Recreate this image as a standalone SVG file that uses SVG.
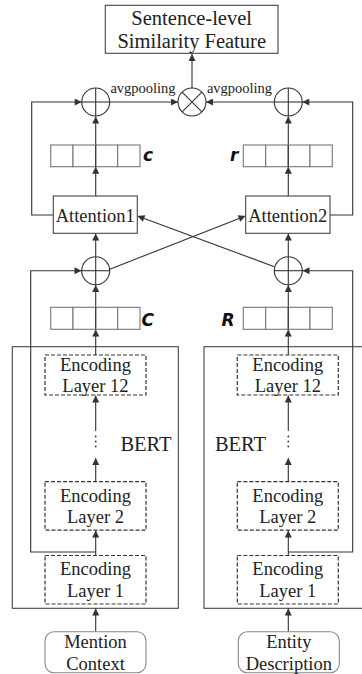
<svg xmlns="http://www.w3.org/2000/svg" width="362" height="674" viewBox="0 0 362 674">
<style>
.t{font-family:"Liberation Serif","Times New Roman",serif;fill:#222;text-anchor:middle}
.f18{font-size:18.5px}
.f20{font-size:20.5px}
.f14{font-size:14.5px}
.v{font-family:"DejaVu Sans",sans-serif;font-weight:bold;font-style:italic;font-size:17px;fill:#111}
.box{fill:#fff;stroke:#444;stroke-width:1.1}
.dash{fill:#fff;stroke:#333;stroke-width:1.2;stroke-dasharray:4 2}
.cell{fill:#fff;stroke:#777;stroke-width:1.1}
.op{fill:none;stroke:#333;stroke-width:1.1}
.ln{fill:none;stroke:#333;stroke-width:1.1}
.rnd{fill:#fff;stroke:#888;stroke-width:1.1}
.bert{fill:none;stroke:#444;stroke-width:1.1}
</style>
<defs>
<marker id="ah" viewBox="0 0 10 10" refX="10" refY="5" markerWidth="8" markerHeight="7" markerUnits="userSpaceOnUse" orient="auto">
<path d="M0,0 L10,5 L0,10 z" fill="#333"/>
</marker>
</defs>

<!-- BERT containers -->
<g id="bert-left">
<rect class="bert" x="12.3" y="346.7" width="166" height="261.6"/>
<text class="t f20" x="146" y="451">BERT</text>
</g>
<g id="bert-right">
<rect class="bert" x="204" y="346.7" width="170" height="261.6"/>
<text class="t f20" x="240.5" y="451">BERT</text>
</g>

<!-- connectors -->
<g id="connectors">
<line class="ln" x1="192" y1="88" x2="192" y2="54" marker-end="url(#ah)"/>
<line class="ln" x1="95.7" y1="145" x2="95.7" y2="116.5" marker-end="url(#ah)"/>
<line class="ln" x1="288.3" y1="145" x2="288.3" y2="116.5" marker-end="url(#ah)"/>
<line class="ln" x1="95.7" y1="196" x2="95.7" y2="166.7" marker-end="url(#ah)"/>
<line class="ln" x1="288.3" y1="196" x2="288.3" y2="166.7" marker-end="url(#ah)"/>
<line class="ln" x1="110" y1="102" x2="178" y2="102" marker-end="url(#ah)"/>
<line class="ln" x1="274" y1="102" x2="206" y2="102" marker-end="url(#ah)"/>
<path class="ln" d="M53.3,215 H31.7 V102 H81.7" marker-end="url(#ah)"/>
<path class="ln" d="M330,215 H352.7 V102 H302.3" marker-end="url(#ah)"/>
<line class="ln" x1="95.7" y1="256.5" x2="95.7" y2="233.5" marker-end="url(#ah)"/>
<line class="ln" x1="288.3" y1="256.5" x2="288.3" y2="233.5" marker-end="url(#ah)"/>
<line class="ln" x1="95.7" y1="307.3" x2="95.7" y2="285" marker-end="url(#ah)"/>
<line class="ln" x1="288.3" y1="307.3" x2="288.3" y2="285" marker-end="url(#ah)"/>
<line class="ln" x1="109.7" y1="269.3" x2="245.5" y2="216" marker-end="url(#ah)"/>
<line class="ln" x1="274.3" y1="266.7" x2="137.5" y2="216" marker-end="url(#ah)"/>
<path class="ln" d="M95.7,552 H30.7 V270.7 H81.5" marker-end="url(#ah)"/>
<path class="ln" d="M288.3,552 H352.7 V270.7 H302.5" marker-end="url(#ah)"/>
<line class="ln" x1="95.7" y1="355" x2="95.7" y2="329.5" marker-end="url(#ah)"/>
<line class="ln" x1="288.3" y1="355" x2="288.3" y2="329.5" marker-end="url(#ah)"/>
<line class="ln" x1="95.7" y1="431" x2="95.7" y2="395.5" marker-end="url(#ah)"/>
<line class="ln" x1="288.3" y1="431" x2="288.3" y2="395.5" marker-end="url(#ah)"/>
<line class="ln" x1="95.7" y1="481.7" x2="95.7" y2="458" marker-end="url(#ah)"/>
<line class="ln" x1="288.3" y1="481.7" x2="288.3" y2="458" marker-end="url(#ah)"/>
<line class="ln" x1="95.7" y1="555.5" x2="95.7" y2="530.5" marker-end="url(#ah)"/>
<line class="ln" x1="288.3" y1="555.5" x2="288.3" y2="530.5" marker-end="url(#ah)"/>
<line class="ln" x1="95.7" y1="631.7" x2="95.7" y2="608.5" marker-end="url(#ah)"/>
<line class="ln" x1="288.3" y1="631.7" x2="288.3" y2="608.5" marker-end="url(#ah)"/>
</g>

<!-- top output -->
<g id="sentence-feature">
<rect class="box" x="105.3" y="5.3" width="172.7" height="48"/>
<text class="t f20" x="191.7" y="24.5">Sentence-level</text>
<text class="t f20" x="191.7" y="48">Similarity Feature</text>
</g>

<g id="labels-avg">
<text class="t f14" x="143" y="92.5">avgpooling</text>
<text class="t f14" x="239.5" y="92.5">avgpooling</text>
</g>

<!-- operators -->
<g id="mult">
<circle class="op" cx="192" cy="102" r="14" fill="#fff"/>
<line class="op" x1="182.1" y1="92.1" x2="201.9" y2="111.9"/>
<line class="op" x1="182.1" y1="111.9" x2="201.9" y2="92.1"/>
</g>
<g id="plus-top-left">
<circle class="op" cx="95.7" cy="102" r="14"/>
<line class="op" x1="81.7" y1="102" x2="109.7" y2="102"/>
<line class="op" x1="95.7" y1="88" x2="95.7" y2="116"/>
</g>
<g id="plus-top-right">
<circle class="op" cx="288.3" cy="102" r="14"/>
<line class="op" x1="274.3" y1="102" x2="302.3" y2="102"/>
<line class="op" x1="288.3" y1="88" x2="288.3" y2="116"/>
</g>
<g id="plus-low-left">
<circle class="op" cx="95.7" cy="270.7" r="14"/>
<line class="op" x1="81.7" y1="270.7" x2="109.7" y2="270.7"/>
<line class="op" x1="95.7" y1="256.7" x2="95.7" y2="284.7"/>
</g>
<g id="plus-low-right">
<circle class="op" cx="288.3" cy="270.7" r="14"/>
<line class="op" x1="274.3" y1="270.7" x2="302.3" y2="270.7"/>
<line class="op" x1="288.3" y1="256.7" x2="288.3" y2="284.7"/>
</g>

<!-- vectors -->
<g id="vec-c">
<rect class="cell" x="50.7" y="145" width="22.3" height="21.7"/>
<rect class="cell" x="73" y="145" width="22.7" height="21.7"/>
<rect class="cell" x="95.7" y="145" width="22" height="21.7"/>
<rect class="cell" x="117.7" y="145" width="22.3" height="21.7"/>
<line class="ln" x1="95.7" y1="145" x2="95.7" y2="166.7"/>
<text class="v" x="143" y="160.7">c</text>
</g>
<g id="vec-r">
<rect class="cell" x="243.3" y="145" width="22.4" height="21.7"/>
<rect class="cell" x="265.7" y="145" width="22.6" height="21.7"/>
<rect class="cell" x="288.3" y="145" width="21.7" height="21.7"/>
<rect class="cell" x="310" y="145" width="22.3" height="21.7"/>
<line class="ln" x1="288.3" y1="145" x2="288.3" y2="166.7"/>
<text class="v" x="230" y="160.7">r</text>
</g>
<g id="vec-C">
<rect class="cell" x="50.7" y="307.3" width="22.3" height="22"/>
<rect class="cell" x="73" y="307.3" width="22.7" height="22"/>
<rect class="cell" x="95.7" y="307.3" width="22" height="22"/>
<rect class="cell" x="117.7" y="307.3" width="22.3" height="22"/>
<line class="ln" x1="95.7" y1="307.3" x2="95.7" y2="329.3"/>
<text class="v" x="141.5" y="326">C</text>
</g>
<g id="vec-R">
<rect class="cell" x="243.3" y="307.3" width="22.4" height="22"/>
<rect class="cell" x="265.7" y="307.3" width="22.6" height="22"/>
<rect class="cell" x="288.3" y="307.3" width="21.7" height="22"/>
<rect class="cell" x="310" y="307.3" width="22.3" height="22"/>
<line class="ln" x1="288.3" y1="307.3" x2="288.3" y2="329.3"/>
<text class="v" x="221.5" y="326">R</text>
</g>

<!-- attention -->
<g id="attention1">
<rect class="box" x="53.3" y="196" width="84" height="37.3"/>
<text class="t f18" x="95.3" y="221.7">Attention1</text>
</g>
<g id="attention2">
<rect class="box" x="245.7" y="196" width="84.3" height="37.3"/>
<text class="t f18" x="287.8" y="221.7">Attention2</text>
</g>

<!-- encoding layers left -->
<g id="enc12-left">
<rect class="dash" x="45" y="355" width="101" height="40"/>
<text class="t f18" x="95.5" y="371">Encoding</text>
<text class="t f18" x="95.5" y="391.7">Layer 12</text>
</g>
<g id="dots-left">
<circle cx="95.7" cy="436.5" r="0.9" fill="#333"/>
<circle cx="95.7" cy="441.5" r="0.9" fill="#333"/>
<circle cx="95.7" cy="446.5" r="0.9" fill="#333"/>
</g>
<g id="enc2-left">
<rect class="dash" x="45" y="481.7" width="101" height="48.5"/>
<text class="t f18" x="95.5" y="501.7">Encoding</text>
<text class="t f18" x="95.5" y="522.7">Layer 2</text>
</g>
<g id="enc1-left">
<rect class="dash" x="45" y="555.5" width="101" height="48.5"/>
<text class="t f18" x="95.5" y="575">Encoding</text>
<text class="t f18" x="95.5" y="597">Layer 1</text>
</g>

<!-- encoding layers right -->
<g id="enc12-right">
<rect class="dash" x="237.3" y="355" width="101" height="40"/>
<text class="t f18" x="287.8" y="371">Encoding</text>
<text class="t f18" x="287.8" y="391.7">Layer 12</text>
</g>
<g id="dots-right">
<circle cx="288.3" cy="436.5" r="0.9" fill="#333"/>
<circle cx="288.3" cy="441.5" r="0.9" fill="#333"/>
<circle cx="288.3" cy="446.5" r="0.9" fill="#333"/>
</g>
<g id="enc2-right">
<rect class="dash" x="237.3" y="481.7" width="101" height="48.5"/>
<text class="t f18" x="287.8" y="501.7">Encoding</text>
<text class="t f18" x="287.8" y="522.7">Layer 2</text>
</g>
<g id="enc1-right">
<rect class="dash" x="237.3" y="555.5" width="101" height="48.5"/>
<text class="t f18" x="287.8" y="575">Encoding</text>
<text class="t f18" x="287.8" y="597">Layer 1</text>
</g>

<!-- inputs -->
<g id="mention-context">
<rect class="rnd" x="45" y="631.7" width="101" height="41" rx="9"/>
<text class="t f18" x="95.5" y="647.7">Mention</text>
<text class="t f18" x="95.5" y="670">Context</text>
</g>
<g id="entity-description">
<rect class="rnd" x="238.3" y="631.7" width="101" height="41" rx="9"/>
<text class="t f18" x="288.8" y="647.7">Entity</text>
<text class="t f18" x="288.8" y="670">Description</text>
</g>
</svg>
